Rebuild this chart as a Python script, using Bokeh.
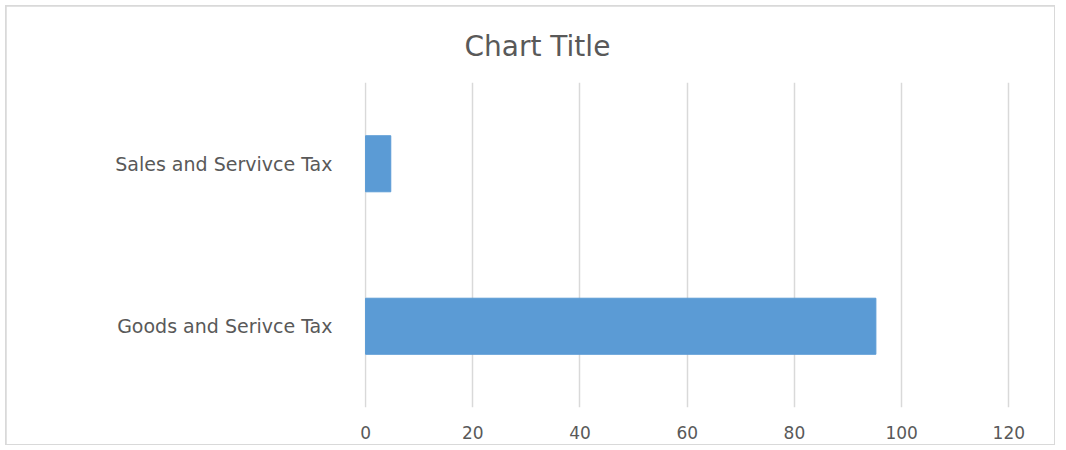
from bokeh.plotting import figure
from bokeh.models import Range1d, FactorRange, FixedTicker, ColumnDataSource
from bokeh.embed import file_html
from bokeh.resources import INLINE

categories = ["Goods and Serivce Tax", "Sales and Servivce Tax"]
values = [95.2, 4.7]
x_ticks = [0, 20, 40, 60, 80, 100, 120]
title_text = "Chart Title"

src = ColumnDataSource(dict(cat=categories, val=values))

p = figure(
    width=1048, height=438,
    y_range=FactorRange(factors=categories, range_padding=0),
    x_range=Range1d(-0.2, 120.5),
    output_backend="svg", toolbar_location=None,
    min_border_left=358, min_border_right=43,
    min_border_top=76, min_border_bottom=37,
    margin=(6, 0, 0, 6),
    styles={"outline": "2px solid #d9d9d9", "outline-offset": "-1px"},
)
p.hbar(y="cat", right="val", left=0, height=0.345, source=src,
       fill_color="#5b9bd5", line_color="#5b9bd5")

p.title.text = title_text
p.title.align = "left"
p.title.text_font = "DejaVu Sans"
p.title.text_font_size = "28px"
p.title.text_font_style = "normal"
p.title.text_color = "#595959"
p.title.offset = 100
p.title.standoff = 39

p.outline_line_color = None
p.background_fill_color = "white"
p.border_fill_color = "white"

p.xaxis.ticker = FixedTicker(ticks=x_ticks)
p.xaxis.axis_line_color = None
p.xaxis.major_tick_line_color = None
p.xaxis.minor_tick_line_color = None
p.xaxis.major_label_text_font = "DejaVu Sans"
p.xaxis.major_label_text_font_size = "17px"
p.xaxis.major_label_text_color = "#595959"
p.xaxis.major_label_standoff = 12

p.yaxis.axis_line_color = None
p.yaxis.major_tick_line_color = None
p.yaxis.minor_tick_line_color = None
p.yaxis.major_label_text_font = "DejaVu Sans"
p.yaxis.major_label_text_font_size = "19px"
p.yaxis.major_label_text_color = "#595959"
p.yaxis.major_label_standoff = 26

p.xgrid.ticker = FixedTicker(ticks=x_ticks)
p.xgrid.grid_line_color = "#d9d9d9"
p.xgrid.grid_line_width = 1.5
p.ygrid.grid_line_color = None

open("out.html", "w").write(file_html(p, INLINE))
